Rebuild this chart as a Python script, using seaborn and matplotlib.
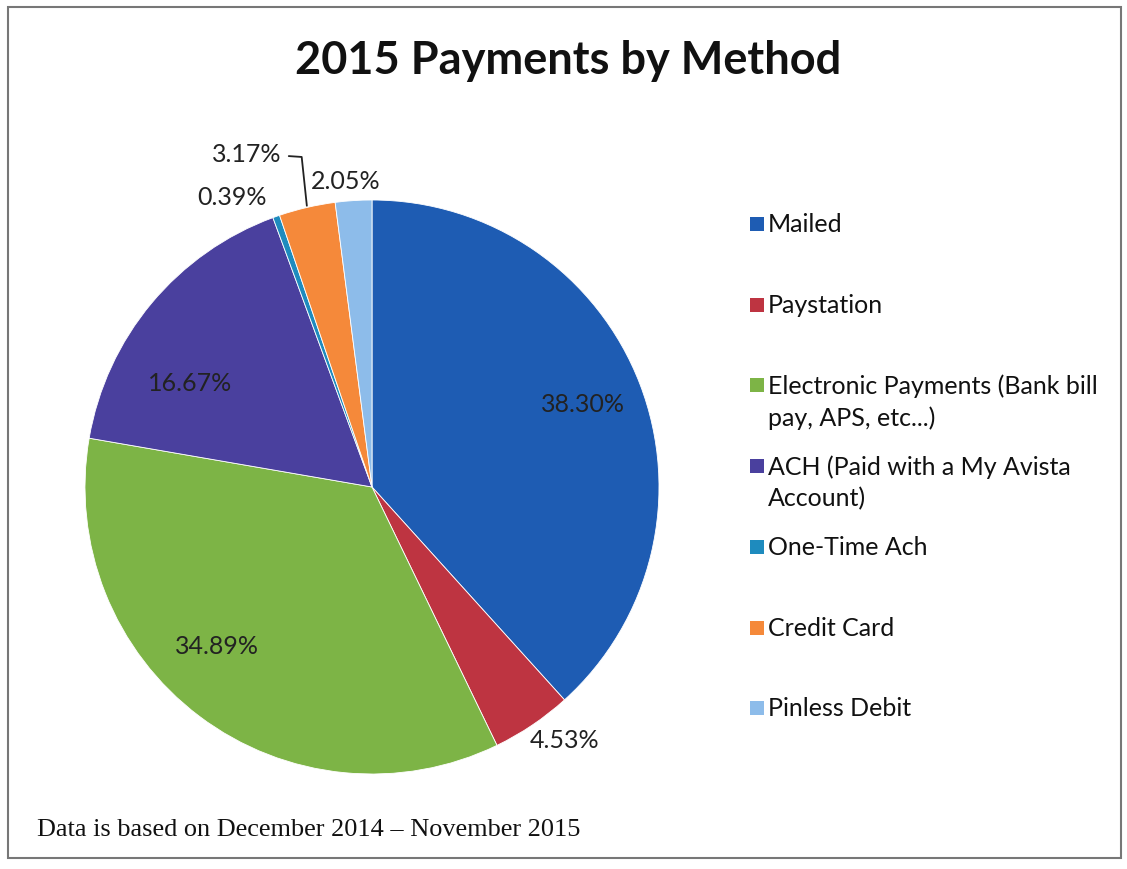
import matplotlib
matplotlib.use("Agg")
import matplotlib.pyplot as plt
import seaborn as sns
from matplotlib.patches import Rectangle

sns.set_theme(style="white")
plt.rcParams['font.family'] = ['Lato', 'DejaVu Sans']

categories = ["Mailed", "Paystation", "Electronic Payments (Bank bill\npay, APS, etc...)",
              "ACH (Paid with a My Avista\nAccount)", "One-Time Ach", "Credit Card", "Pinless Debit"]
values = [38.30, 4.53, 34.89, 16.67, 0.39, 3.17, 2.05]
labels = ["38.30%", "4.53%", "34.89%", "16.67%", "0.39%", "3.17%", "2.05%"]
colors = ["#1E5CB3", "#BE3441", "#7DB446", "#4A409E", "#1E8BBE", "#F5893A", "#8DBCEA"]

# label positions relative to pie centre (in radius units)
label_pos = [(0.735, 0.289), (0.672, -0.882), (-0.54, -0.557), (-0.634, 0.362),
             (-0.488, 1.007), (-0.436, 1.157), (-0.09, 1.066)]

W, H = 1127, 869
fig = plt.figure(figsize=(W / 100, H / 100), dpi=100)

cx, cy, r = 372, 487, 287
ax = fig.add_axes([(cx - r) / W, 1 - (cy + r) / H, 2 * r / W, 2 * r / H])
wedges, _ = ax.pie(values, colors=colors, startangle=90, counterclock=False,
                   radius=1, wedgeprops=dict(edgecolor="white", linewidth=0.6))
ax.set_xlim(-1, 1)
ax.set_ylim(-1, 1)
ax.set_aspect("equal")
ax.axis("off")

for (x, y), t in zip(label_pos, labels):
    ax.text(x, y, t, ha="center", va="center", fontsize=18, color="#222222")

# leader line for 3.17%
ax.plot([-0.29, -0.245, -0.227], [1.153, 1.150, 0.98], color="#222222", lw=1.3, clip_on=False)

# title
fig.text(568 / W, 1 - 61 / H, "2015 Payments by Method", ha="center", va="center",
         fontsize=32.5, fontweight="bold", color="#111111")

# legend drawn manually
leg_top = 224
step = 80.7
for i, (c, name) in enumerate(zip(colors, categories)):
    yc = leg_top + i * step
    fig.patches.append(Rectangle((750 / W, 1 - (yc + 7) / H), 14 / W, 14 / H,
                                 transform=fig.transFigure, facecolor=c, edgecolor="none"))
    fig.text(768 / W, 1 - (yc - 11) / H, name, ha="left", va="top", fontsize=18,
             color="#111111", linespacing=1.42)

# footer
fig.text(37 / W, 1 - 830 / H, "Data is based on December 2014 \u2013 November 2015",
         ha="left", va="center", fontsize=18.9, family=["Liberation Serif"], color="#111111")

# frame
fig.patches.append(Rectangle((8 / W, 1 - 858 / H), (1121 - 8) / W, (858 - 7) / H,
                             transform=fig.transFigure, facecolor="none",
                             edgecolor="#777777", linewidth=1.5))

fig.savefig("out.png", dpi=100)
